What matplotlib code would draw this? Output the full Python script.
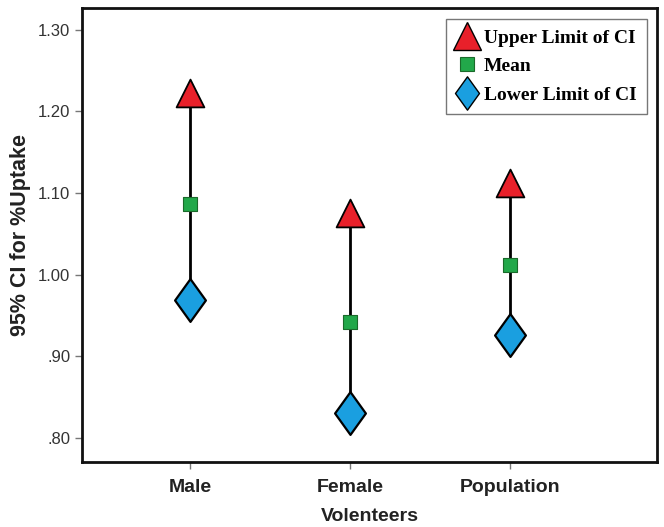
import matplotlib
matplotlib.use("Agg")
import matplotlib.pyplot as plt
from matplotlib.lines import Line2D
from matplotlib.path import Path

# data
groups = ["Male", "Female", "Population"]
upper = [1.223, 1.076, 1.112]
mean = [1.087, 0.942, 1.012]
lower = [0.969, 0.831, 0.926]
yticks = [0.80, 0.90, 1.00, 1.10, 1.20, 1.30]
ytick_labels = [".80", ".90", "1.00", "1.10", "1.20", "1.30"]

plt.rcParams["font.family"] = ["Liberation Sans", "DejaVu Sans"]

# tall diamond like the SPSS one
tall_diamond = Path([(0, 1), (0.72, 0), (0, -1), (-0.72, 0), (0, 1)],
                    [Path.MOVETO, Path.LINETO, Path.LINETO, Path.LINETO, Path.CLOSEPOLY])

RED, GREEN, BLUE = "#e8202a", "#22a84a", "#1a9fe0"

fig = plt.figure(figsize=(6.64, 5.27), dpi=100)
ax = fig.add_axes([0.1235, 0.1233, 0.866, 0.862])

x = list(range(1, len(groups) + 1))
for xi, lo, hi in zip(x, lower, upper):
    ax.plot([xi, xi], [lo, hi], color="black", lw=2, zorder=1)

ax.scatter(x, upper, marker="^", s=400, color=RED, edgecolor="black",
           linewidth=1.3, zorder=3)
ax.scatter(x, mean, marker="s", s=90, color=GREEN, edgecolor="#1a6a2a",
           linewidth=0.8, zorder=3)
ax.scatter(x, lower, marker=tall_diamond, s=950, color=BLUE, edgecolor="black",
           linewidth=1.6, zorder=3)

ax.set_xlim(0.325, 3.92)
ax.set_ylim(0.7706, 1.327)
ax.set_xticks(x)
ax.set_xticklabels(groups, fontsize=14, fontweight="bold", color="#222222")
ax.set_yticks(yticks)
ax.set_yticklabels(ytick_labels, fontsize=12, color="#333333")
ax.tick_params(axis="both", direction="out", length=5, width=1, color="#777777")
ax.tick_params(axis="x", pad=7)

for sp in ax.spines.values():
    sp.set_linewidth(2)
    sp.set_color("#111111")

ax.set_xlabel("Volenteers", fontsize=14, fontweight="bold", color="#222222", labelpad=9)
ax.set_ylabel("95% CI for %Uptake", fontsize=15.5, fontweight="bold", color="#222222", labelpad=5)

handles = [
    Line2D([], [], ls="none", marker="^", ms=20, mfc=RED, mec="black", mew=1),
    Line2D([], [], ls="none", marker="s", ms=10, mfc=GREEN, mec="#1a6a2a", mew=0.8),
    Line2D([], [], ls="none", marker=tall_diamond, ms=24, mfc=BLUE, mec="black", mew=1),
]
leg = ax.legend(handles, ["Upper Limit of CI", "Mean", "Lower Limit of CI"],
                loc="upper right", bbox_to_anchor=(0.983, 0.976),
                prop={"family": "Liberation Serif", "weight": "bold", "size": 14},
                frameon=True, fancybox=False, edgecolor="#555555",
                handletextpad=0.3, borderpad=0.55, labelspacing=0.55, handlelength=1.1,
                borderaxespad=0)
leg.get_frame().set_linewidth(1)

fig.savefig("out.png", dpi=100)
